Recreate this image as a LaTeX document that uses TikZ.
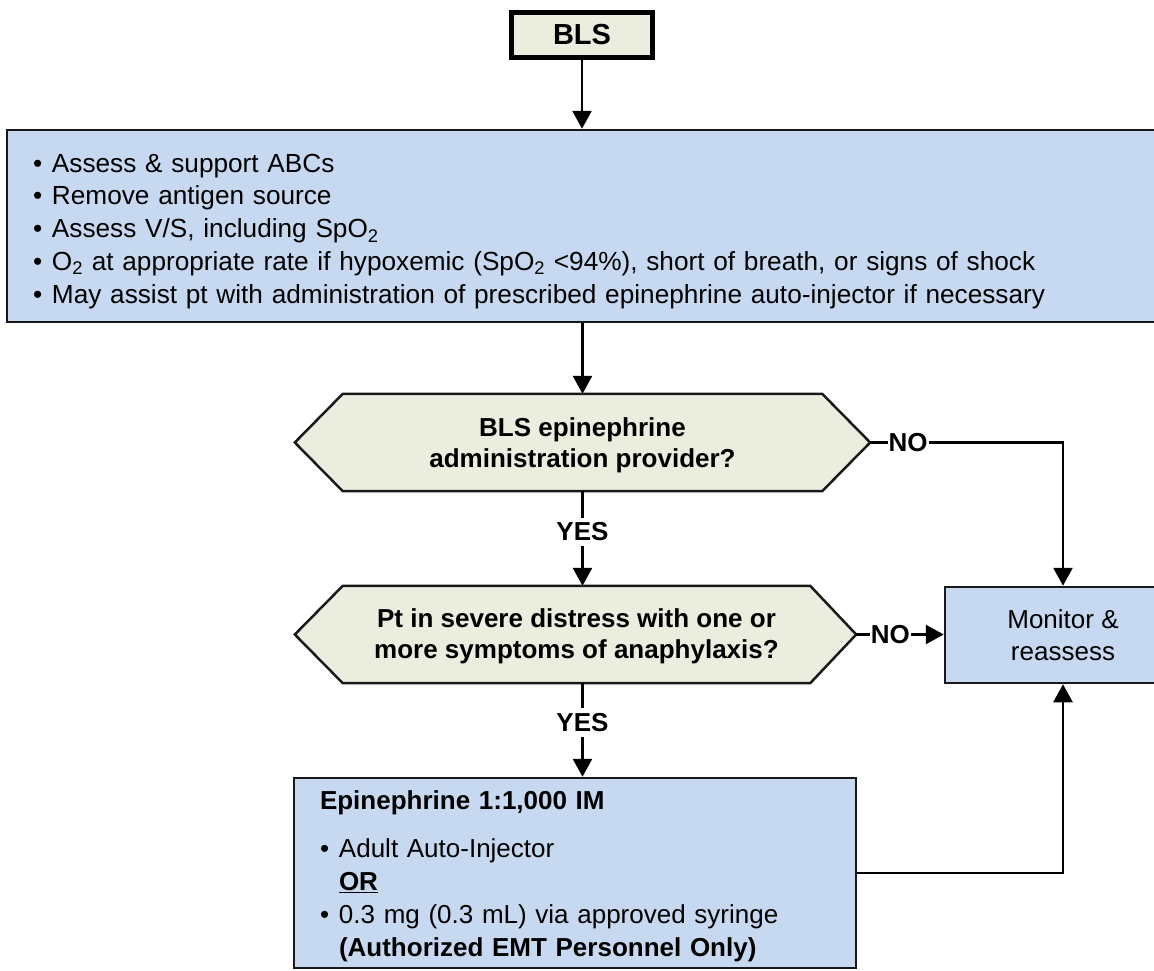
\documentclass[tikz,border=0pt]{standalone}
\usepackage{fontspec}
\setmainfont{Liberation Sans}
\usetikzlibrary{arrows.meta,backgrounds,calc}
\definecolor{hexgreen}{RGB}{235,238,222}
\definecolor{boxblue}{RGB}{198,217,240}
\definecolor{edge}{RGB}{25,25,25}
\newcommand{\blt}{\makebox[19pt][l]{\textbullet}}
\begin{document}
\begin{tikzpicture}[x=1pt,y=-1pt,
  every node/.style={font=\fontsize{26}{33}\selectfont},
  arr/.style={draw=black, line width=2.7pt, -{Triangle[width=19pt,length=18pt]}},
  bluebox/.style={draw=edge, fill=boxblue, line width=2.5pt, inner sep=0pt},
  hextext/.style={align=center, inner sep=0pt, font=\bfseries\fontsize{26}{31}\selectfont},
  hexshape/.style={draw=edge, fill=hexgreen, line width=2.5pt},
  lab/.style={fill=white, inner xsep=1pt, inner ysep=5pt, font=\bfseries\fontsize{26}{30}\selectfont}
]
\useasboundingbox (0,0) rectangle (1154,970);

% BLS header
\node[draw=black, line width=5pt, fill=hexgreen, minimum width=141pt, minimum height=45pt, inner sep=0pt,
      font=\bfseries\fontsize{29}{33}\selectfont] (bls) at (582,35) {BLS};

% first blue box
\node[bluebox, minimum width=1158pt, minimum height=192pt, inner xsep=26pt, text width=1106pt, align=left,
      font=\fontsize{26.2}{32.8}\selectfont] (b1) at (586,226)
  {\rule{0pt}{29pt}\blt Assess \& support ABCs\\
   \blt Remove antigen source\\
   \blt Assess V/S, including SpO\textsubscript{2}\\
   \blt O\textsubscript{2} at appropriate rate if hypoxemic (SpO\textsubscript{2} <94\%), short of breath, or signs of shock\\
   \blt May assist pt with administration of prescribed epinephrine auto-injector if necessary};

% decisions
\node[hextext, minimum width=479pt, minimum height=97pt] (h1) at (582.5,442.5)
  {\rule{0pt}{25pt}BLS epinephrine\\administration provider?};
\node[hextext, minimum width=467pt, minimum height=97pt] (h2) at (576.5,634.5)
  {\rule{0pt}{23pt}Pt in severe distress with one or\\more symptoms of anaphylaxis?};
\begin{scope}[on background layer]
  \draw[hexshape] (h1.north west) -- (h1.north east) -- ([xshift=48pt]h1.east) -- (h1.south east)
    -- (h1.south west) -- ([xshift=-48pt]h1.west) -- cycle;
  \draw[hexshape] (h2.north west) -- (h2.north east) -- ([xshift=46pt]h2.east) -- (h2.south east)
    -- (h2.south west) -- ([xshift=-48pt]h2.west) -- cycle;
\end{scope}

% monitor box
\node[bluebox, minimum width=236pt, minimum height=96pt, align=center,
      font=\fontsize{26}{32}\selectfont] (mon) at (1063,635) {Monitor \&\\reassess};

% epinephrine box
\node[bluebox, minimum width=562pt, minimum height=190pt, inner xsep=26pt, text width=510pt, align=left,
      font=\fontsize{26}{33}\selectfont] (b3) at (575,873)
  {\rule{0pt}{26pt}{\bfseries Epinephrine 1:1,000 IM}\\[15pt]
   \blt Adult Auto-Injector\\
   \hspace*{19pt}{\bfseries\underline{OR}}\\
   \blt 0.3 mg (0.3 mL) via approved syringe\\
   \hspace*{19pt}{\bfseries (Authorized EMT Personnel Only)}};

% connectors
\draw[arr] (bls.south) -- (bls.south |- b1.north);
\draw[arr] (h1.north |- b1.south) -- (h1.north);
\draw[arr] (h1.south) -- node[lab, pos=0.43] (yes1) {YES} (h1.south |- h2.north);
\draw[arr] (h1.south |- h2.south) -- node[lab, pos=0.42] (yes2) {YES} (h1.south |- b3.north);
\draw[arr] ([xshift=48pt]h1.east) -- node[lab, pos=0.197, inner ysep=1pt] (no1) {NO} (mon.north |- h1.east) -- (mon.north);
\draw[arr] ([xshift=46pt]h2.east) -- node[lab, pos=0.39, inner ysep=1pt] (no2) {NO} (mon.west |- h2.east);
\draw[arr] (b3.east) -- (b3.east -| mon.south) -- (mon.south);
\end{tikzpicture}
\end{document}
